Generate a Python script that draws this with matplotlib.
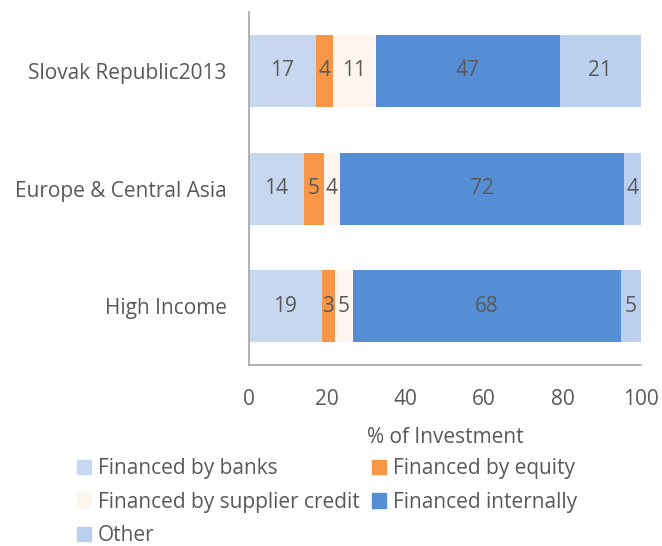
import matplotlib.pyplot as plt
from matplotlib.patches import Patch

plt.rcParams['font.family'] = ['Open Sans', 'DejaVu Sans']

countries = ["High Income", "Europe & Central Asia", "Slovak Republic2013"]
banks = [18.6, 14.0, 17.1]
equity = [3.3, 5.1, 4.3]
supplier = [4.6, 4.1, 11.0]
internal = [68.4, 72.4, 46.9]
other = [5.1, 4.4, 20.7]

series = [
    ("Financed by banks", banks, "#C6D7EF"),
    ("Financed by equity", equity, "#F79646"),
    ("Financed by supplier credit", supplier, "#FDF5EE"),
    ("Financed internally", internal, "#558ED5"),
    ("Other", other, "#BBD0EE"),
]
text_col = "#595959"
fs = 15

fig = plt.figure(figsize=(6.62, 5.46), dpi=100)
ax = fig.add_axes([0.376, 0.331, 0.592, 0.647])

ypos = range(len(countries))
left = [0.0] * len(countries)
for name, vals, col in series:
    bars = ax.barh(ypos, vals, left=left, height=0.61, color=col, label=name)
    for b, v in zip(bars, vals):
        ax.text(b.get_x() + b.get_width() / 2, b.get_y() + b.get_height() / 2,
                f"{v:.0f}", ha="center", va="center", color=text_col, fontsize=fs)
    left = [l + v for l, v in zip(left, vals)]

ax.set_xlim(0, 100)
ax.set_ylim(-0.5, 2.5)
ax.set_xticks([0, 20, 40, 60, 80, 100])
ax.set_yticks(list(ypos))
ax.set_yticklabels(countries)
ax.tick_params(axis="both", length=0, colors=text_col, labelsize=fs)
ax.tick_params(axis="x", pad=17)
ax.tick_params(axis="y", pad=16)
for s in ["top", "right"]:
    ax.spines[s].set_visible(False)
for s in ["left", "bottom"]:
    ax.spines[s].set_color("#A6A6A6")
    ax.spines[s].set_linewidth(1.2)
ax.set_xlabel("% of Investment", color=text_col, fontsize=fs, labelpad=12)

order = [0, 2, 4, 1, 3]
handles = [Patch(color=series[i][2], label=series[i][0]) for i in order]
fig.legend(handles=handles, ncol=2, loc="upper left", bbox_to_anchor=(0.104, 0.176),
           frameon=False, fontsize=fs, handlelength=0.67, handleheight=0.67,
           handletextpad=0.33, columnspacing=0.6, labelspacing=0.6,
           labelcolor=text_col, borderaxespad=0)

fig.savefig("out.png", dpi=100)
